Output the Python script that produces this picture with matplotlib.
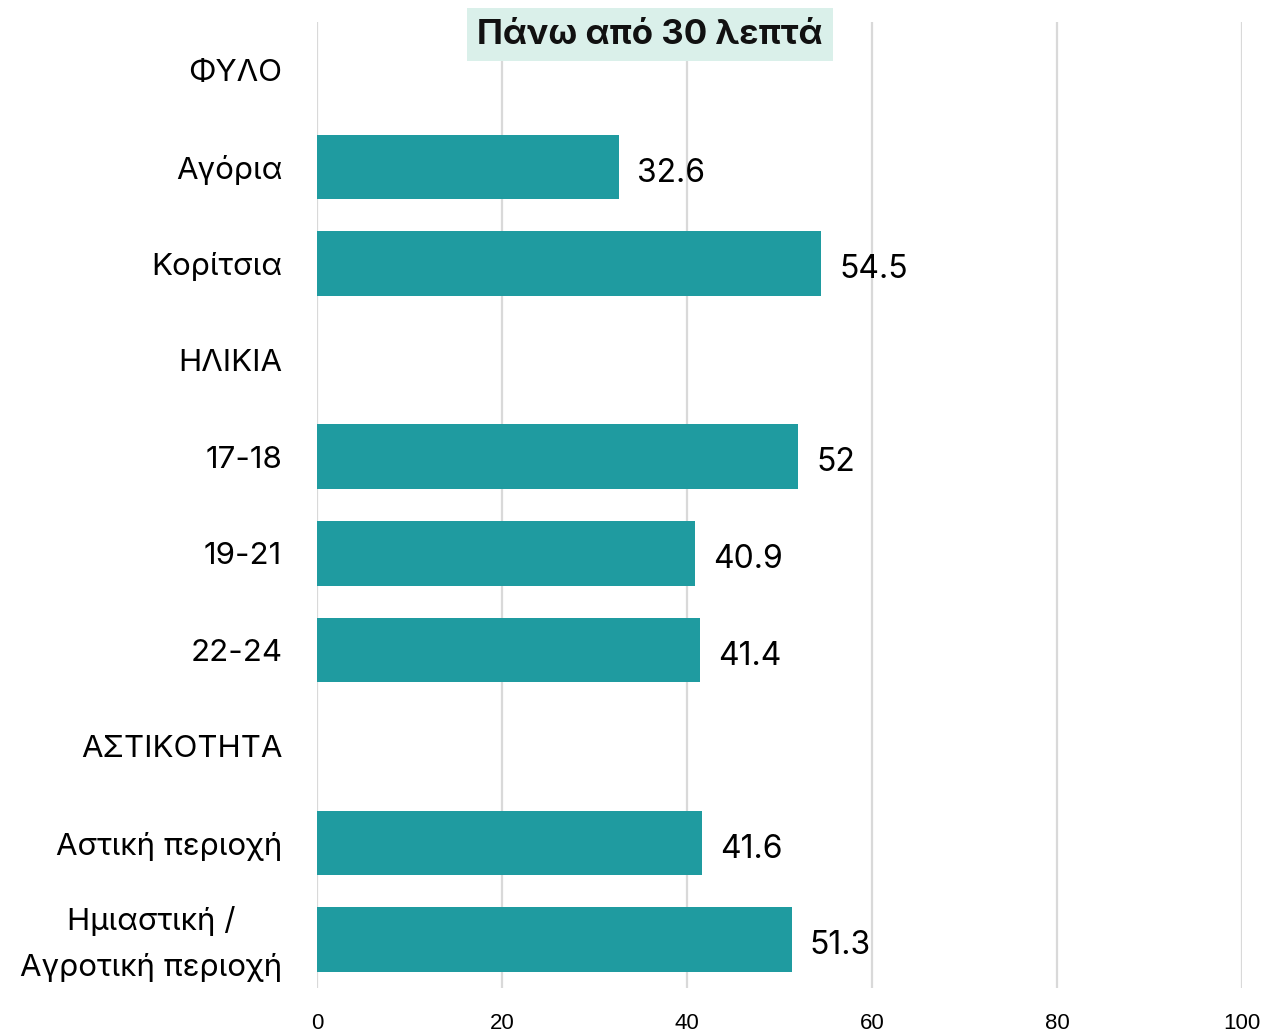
import matplotlib
matplotlib.use("Agg")
import matplotlib.pyplot as plt
import matplotlib.transforms as mtransforms
from matplotlib import font_manager

categories = ["ΦΥΛΟ", "Αγόρια", "Κορίτσια", "ΗΛΙΚΙΑ", "17-18", "19-21", "22-24",
              "ΑΣΤΙΚΟΤΗΤΑ", "Αστική περιοχή", "Ημιαστική /\nΑγροτική περιοχή"]
values = [None, 32.6, 54.5, None, 52, 40.9, 41.4, None, 41.6, 51.3]
value_labels = ["", "32.6", "54.5", "", "52", "40.9", "41.4", "", "41.6", "51.3"]
x_ticks = [0, 20, 40, 60, 80, 100]
title = "Πάνω από 30 λεπτά"

bar_color = "#1f9ba0"
grid_color = "#d9d9d9"

names = {f.name for f in font_manager.fontManager.ttflist}
tick_font = "Liberation Sans Narrow" if "Liberation Sans Narrow" in names else "Liberation Sans"
plt.rcParams["font.family"] = ["Inter", "DejaVu Sans"]

fig = plt.figure(figsize=(12.68, 10.33), dpi=100)
ax = fig.add_axes([0.25, 0.0436, 0.7295, 0.9351])

n = len(categories)
ypos = list(range(n))
for y, v, lab in zip(ypos, values, value_labels):
    if v is None:
        continue
    ax.barh(y, v, height=0.67, color=bar_color, zorder=2)
    ax.annotate(lab, (v, y), xytext=(13, -4.5), textcoords="offset points",
                ha="left", va="center", fontsize=23, color="black", zorder=1)

ax.set_xlim(0, 100)
ax.set_ylim(n - 0.5, -0.5)
ax.set_xticks(x_ticks)
ax.set_xticklabels([str(t) for t in x_ticks], fontfamily=tick_font, fontsize=16)
ax.set_yticks(ypos)
ax.set_yticklabels(categories, fontsize=22.5)
ax.tick_params(axis="y", length=0, pad=25)
ax.tick_params(axis="x", length=0, pad=18)
for lab in ax.get_yticklabels():
    lab.set_horizontalalignment("right")
ax.xaxis.grid(True, color=grid_color, linewidth=1.6, zorder=0)
ax.set_axisbelow(True)
for s in ax.spines.values():
    s.set_visible(False)

# two-line label: centred lines, a little more leading, nudged up slightly
last = ax.get_yticklabels()[-1]
last.set_multialignment("center")
last.set_linespacing(1.72)
last.set_transform(last.get_transform() +
                   mtransforms.ScaledTranslation(0, 7 / 100, fig.dpi_scale_trans))

fig.text(0.5125, 0.9666, title, ha="center", va="center", fontsize=25,
         fontweight="bold", color="#111111",
         bbox=dict(boxstyle="square,pad=0.3", facecolor="#daf0ea", edgecolor="none"))

fig.savefig("out.png", dpi=100)
